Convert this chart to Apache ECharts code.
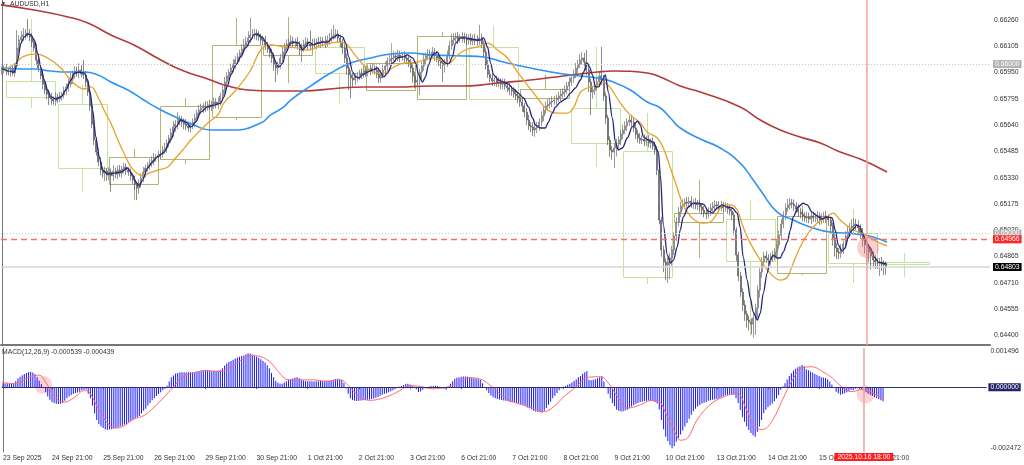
<!DOCTYPE html>
<html><head><meta charset="utf-8">
<script src="https://cdn.jsdelivr.net/npm/echarts@6/dist/echarts.min.js"></script>
<style>html,body{margin:0;padding:0;background:#fff}#c{width:1024px;height:465px}</style>
</head><body><div id="c"></div>
<script>
// ---------- categories ----------
const tradingDays = ['23 Sep','24 Sep','25 Sep','26 Sep','29 Sep','30 Sep','1 Oct','2 Oct','3 Oct','6 Oct','7 Oct','8 Oct','9 Oct','10 Oct','13 Oct','14 Oct','15 Oct','16 Oct','17 Oct','20 Oct','21 Oct'];
const firstHour = 22;
const slotCount = 462;
const firstLabel = '23 Sep 2025';
const firstDayStart = 2;
// ---------- tick labels ----------
const priceTicks = [0.64400,0.64555,0.64710,0.64865,0.65020,0.65175,0.65330,0.65485,0.65640,0.65795,0.65950,0.66105,0.66260];
const macdTicks = [-0.002472, 0.001496];
// ---------- price levels ----------
const roundLevels = [0.66000, 0.65000];
const alertLevel = 0.64966;
const bidLevel = 0.64803;
const crossBar = 404;
const crossLabel = '2025.10.16 18:00';
// ---------- H1 bars (points, 1e-5) ----------
const firstOpen = 65960;
const closes = [
65965,65977,65959,65953,65965,65947,65989,66095,66142,66160,
66172,66183,66177,66160,66130,66095,66024,65977,65930,65882,
65847,65823,65800,65794,65782,65806,65794,65812,65818,65841,
65865,65882,65912,65941,65959,65947,65965,65941,65936,65894,
65835,65753,65646,65552,65481,65422,65375,65357,65369,65346,
65363,65340,65369,65351,65375,65357,65381,65393,65375,65363,
65340,65316,65292,65269,65298,65328,65363,65387,65405,65416,
65434,65446,65452,65464,65469,65493,65505,65534,65564,65593,
65629,65646,65676,65664,65658,65646,65635,65623,65641,65658,
65682,65711,65729,65741,65753,65747,65759,65753,65764,65776,
65764,65776,65812,65847,65894,65930,65953,65977,66000,66024,
66042,66065,66089,66113,66130,66154,66172,66177,66183,66166,
66160,66142,66136,66113,66089,66065,66036,65995,65977,66000,
66036,66071,66101,66118,66130,66136,66124,66130,66107,66083,
66101,66118,66130,66118,66107,66124,66118,66130,66124,66136,
66130,66124,66142,66154,66166,66172,66177,66154,66130,66095,
66036,65977,65936,65918,65906,65924,65930,65947,65941,65959,
65953,65971,65965,65977,65965,65941,65918,65936,65965,65989,
66018,66030,66036,66048,66042,66054,66042,66048,66036,66024,
66012,65977,65930,65894,65906,65953,65989,66024,66048,66059,
66054,66071,66048,66036,66018,66006,65995,66012,66054,66107,
66142,66154,66160,66148,66154,66160,66148,66142,66154,66136,
66148,66142,66136,66154,66118,66071,65995,65941,65918,65900,
65906,65888,65894,65882,65888,65871,65859,65847,65841,65823,
65812,65800,65776,65753,65717,65670,65635,65629,65611,65623,
65635,65658,65694,65729,65753,65764,65776,65782,65788,65800,
65812,65823,65835,65847,65871,65894,65918,65941,65977,66000,
66024,66036,66012,65965,65894,65835,65847,65871,65894,65930,
65906,65812,65682,65552,65493,65481,65505,65528,65552,65587,
65611,65635,65658,65670,65658,65623,65587,65564,65552,65558,
65546,65552,65534,65540,65517,65493,65375,65080,64903,64832,
64815,64832,64856,64903,64986,65068,65127,65163,65174,65186,
65180,65192,65174,65180,65169,65174,65157,65139,65121,65115,
65133,65151,65163,65169,65163,65157,65163,65151,65157,65145,
65133,65110,65021,64874,64750,64655,64579,64525,64490,64478,
64466,64502,64561,64667,64773,64832,64868,64856,64844,64862,
64868,64891,64933,64992,65056,65110,65151,65169,65180,65174,
65163,65145,65127,65115,65104,65092,65098,65086,65104,65092,
65092,65104,65080,65092,65104,65092,65080,65045,64974,64915,
64891,64885,64909,64938,64986,65009,65033,65045,65056,65050,
65033,65003,64962,64933,64915,64891,64868,64844,64832,64826,
64832,64820,64815,64803];
const upWick = [
20,15,25,18,22,30,14,106,28,35,40,25,83,30,22,18,25,15,20,28,
18,22,25,30,15,28,20,24,18,26,22,30,35,20,28,25,40,30,83,22,
18,15,20,25,18,22,30,20,25,18,28,22,35,20,26,30,18,25,22,15,
20,18,25,15,22,28,30,20,18,25,22,30,18,26,20,25,30,22,18,28,
35,25,40,20,28,22,30,25,18,22,26,20,30,25,18,28,22,30,20,25,
22,28,20,25,30,22,18,26,30,22,25,20,28,35,30,40,100,30,25,22,
28,20,25,30,18,22,25,20,28,15,22,30,25,28,20,35,25,22,30,28,
20,25,30,22,80,25,28,20,30,25,22,35,28,30,40,59,30,25,20,18,
22,25,20,28,30,22,25,20,28,30,25,22,30,28,20,25,22,30,28,25,
22,30,25,28,20,30,25,22,28,20,25,18,22,25,28,20,25,30,22,28,
25,30,22,28,20,25,22,18,25,30,35,28,25,30,22,28,25,30,22,28,
25,30,28,77,25,20,22,30,25,28,20,25,30,22,28,25,20,30,25,22,
28,25,20,22,18,25,30,22,28,35,25,22,28,20,25,30,22,28,25,20,
25,30,22,28,25,30,22,28,30,25,35,35,30,71,25,20,22,25,30,28,
171,30,20,18,22,25,28,30,22,25,30,28,22,25,30,28,22,25,30,22,
28,25,30,22,28,25,22,18,20,25,22,28,30,25,22,28,30,25,28,22,
30,25,28,22,30,25,28,22,25,30,22,28,25,30,22,28,30,25,28,22,
25,20,18,15,20,25,22,28,20,25,22,30,25,28,22,30,25,28,22,25,
30,22,28,25,30,22,28,35,30,25,28,22,30,25,28,22,30,25,28,22,
25,30,22,28,25,30,22,20,18,22,28,25,30,22,28,35,30,40,35,30,
28,22,30,25,28,22,30,25,28,22,25,30,22,20];
const downWick = [
22,18,25,20,28,15,22,18,25,20,22,28,18,25,30,22,28,25,20,30,
25,30,41,35,22,28,25,20,30,22,25,28,20,30,25,22,28,20,25,30,
22,28,25,30,22,25,30,28,47,35,30,94,28,25,30,22,28,25,30,22,
28,25,30,71,35,28,25,30,22,28,25,30,22,28,25,20,22,28,25,30,
22,28,30,25,28,30,25,22,28,25,30,22,28,25,30,28,22,25,30,28,
25,30,22,28,25,20,22,28,25,30,22,28,25,20,22,25,28,22,30,25,
22,28,25,30,22,28,30,35,83,40,28,25,30,22,28,25,30,28,22,30,
71,28,25,30,22,28,25,30,22,28,25,30,22,28,25,20,22,28,30,35,
30,40,90,120,45,30,28,25,30,22,28,25,30,22,28,25,30,28,22,25,
28,25,30,22,28,25,30,22,28,25,30,28,40,35,30,89,40,30,28,25,
30,22,28,25,30,35,100,45,30,25,22,28,25,30,22,28,25,30,28,22,
25,30,28,22,25,30,28,22,25,30,28,22,25,30,28,22,25,30,28,22,
25,30,28,35,30,28,25,30,35,40,30,28,25,30,22,28,25,30,22,28,
25,30,22,28,25,30,22,28,25,30,22,28,25,30,60,136,40,30,28,25,
30,28,35,30,40,45,94,50,35,30,28,25,30,22,28,25,30,28,22,25,
30,28,25,30,22,28,30,25,40,60,90,106,100,45,30,28,25,30,22,28,
25,30,22,28,25,30,22,28,25,30,22,28,25,30,22,28,25,30,22,28,
25,30,28,35,30,28,35,40,45,50,60,80,100,60,45,35,30,28,25,30,
28,25,30,22,28,25,30,22,28,25,30,22,28,25,30,22,28,25,30,22,
25,30,28,25,30,28,35,40,45,50,40,35,30,28,25,30,28,25,30,28,
30,35,40,50,100,60,80,45,40,35,77,40,60,45];
// ---------- daily candle overlay (points) ----------
const dayOpen  = [65900,65767,65292,65440,65688,66054,66101,65847,65794,66101,65800,65741,65487,65068,65086,64767,65003,64832];
const dayClose = [65806,65390,65452,65753,66113,66113,65947,66006,66166,65794,65853,65534,64744,65121,64838,65104,64826,64820];
const dayHigh  = [66266,65877,65499,65800,66272,66278,66113,66124,66189,66225,65936,66101,65711,65316,65198,65168,65145,64885];
const dayLow   = [65741,65245,65198,65410,65670,65888,65764,65847,65794,65788,65794,65393,64702,64856,64396,64755,64708,64744];
// ---------- moving averages [bar, points] ----------
const maNavy = [[0,65971],[5.7,65953],[7.3,66024],[8.8,66124],[10.4,66160],[11.9,66177],[13.5,66172],[15.1,66142],[16.6,66065],[18.2,65977],[19.7,65906],[21.3,65847],[22.8,65806],[25.2,65794],[27.5,65806],[29.8,65847],[32.2,65906],[33.7,65947],[36.1,65953],[38.4,65947],[40,65906],[41.2,65829],[42.3,65729],[43.8,65570],[45.4,65452],[47,65375],[49.3,65351],[52.4,65357],[55.5,65363],[58.6,65387],[61,65346],[62.5,65304],[64.1,65281],[65.6,65316],[68,65387],[70.3,65422],[72.6,65452],[75.7,65481],[78.8,65552],[81.2,65629],[83.5,65670],[85.8,65658],[88.2,65629],[90.5,65658],[92.8,65717],[96,65747],[99.1,65758],[102.2,65770],[103.6,65806],[105.4,65876],[106.8,65936],[109.2,65995],[111.5,66042],[113.8,66095],[116.2,66142],[117.6,66172],[119.4,66177],[121.8,66154],[123.2,66130],[124.6,66101],[126.4,66065],[127.8,66012],[129.2,65983],[131.1,66006],[132.5,66065],[134.8,66124],[137.2,66130],[138.6,66124],[140.4,66083],[141.8,66101],[143.2,66130],[145.6,66113],[147.4,66124],[149.8,66130],[152.1,66130],[154.4,66154],[156.8,66172],[159.1,66160],[160.5,66124],[161.9,66042],[163.8,65953],[165.2,65924],[166.6,65918],[168.4,65936],[170.8,65953],[173.1,65965],[175.4,65977],[176.8,65953],[178.2,65924],[180.1,65947],[182.4,66006],[184.8,66036],[187.1,66042],[189.4,66054],[191.8,66036],[193.2,66006],[194.6,65936],[196.4,65894],[197.8,65924],[199.2,65995],[201.1,66054],[203.4,66071],[204.8,66036],[207.2,66006],[208.6,66000],[210.4,66042],[211.8,66124],[214.2,66154],[216.5,66154],[218.8,66148],[221.2,66142],[223.5,66142],[224.9,66154],[226.8,66101],[228.2,66006],[229.6,65936],[231.9,65906],[234.2,65894],[236.6,65882],[238.9,65853],[241.2,65829],[243.6,65800],[245.9,65747],[247.8,65682],[249.2,65640],[251.5,65623],[253.8,65623],[255.2,65658],[257.1,65711],[258.5,65747],[260.8,65776],[263.2,65794],[265.5,65829],[267.8,65859],[270.2,65906],[271.6,65953],[273.4,66006],[274.4,65983],[275.8,65936],[277.2,65865],[278.6,65865],[280.4,65906],[281.8,65936],[283.2,65835],[285.1,65682],[286.5,65540],[287.9,65493],[289.8,65505],[292.1,65564],[294.4,65629],[296.8,65664],[298.2,65640],[299.6,65570],[301.9,65552],[304.2,65540],[306.6,65481],[307.5,65346],[308.9,65050],[310.8,64873],[312.2,64826],[313.6,64844],[315.4,64921],[316.8,65021],[318.2,65098],[320.6,65157],[322.9,65180],[325.2,65180],[327.6,65174],[329.9,65133],[331.8,65121],[334.1,65151],[336.4,65169],[338.8,65157],[341.1,65151],[343.4,65121],[344.8,65039],[346.2,64862],[348.1,64726],[349.5,64620],[350.9,64537],[352.8,64490],[354.2,64531],[355.6,64649],[357.4,64767],[358.8,64844],[360.2,64873],[362.1,64856],[363.5,64856],[364.9,64891],[366.8,64950],[368.2,65021],[369.6,65098],[371.9,65157],[374.2,65180],[376.1,65169],[378.4,65127],[380.8,65104],[383.1,65086],[385.4,65098],[387.8,65092],[389.2,65021],[390.6,64933],[392.4,64897],[393.8,64915],[395.2,64974],[397.1,65021],[399.4,65050],[400.8,65039],[402.2,64991],[404.1,64944],[405.5,64915],[407.8,64856],[409.2,64832],[411.6,64826],[413.4,64820]];
const maOrange = [[0,65959],[6.5,66006],[8.8,66036],[12.1,66054],[14.9,66059],[18.2,66054],[22.8,66024],[27.5,65977],[30.8,65924],[34.5,65876],[38.2,65853],[41.5,65865],[44.8,65806],[47.6,65729],[50.8,65652],[54.1,65552],[56.9,65475],[60.2,65393],[63.4,65351],[65.8,65340],[68.6,65357],[72.8,65375],[77.4,65393],[80.2,65434],[84.4,65493],[88.2,65552],[92.8,65611],[96.6,65658],[100.8,65700],[103.6,65770],[110.1,65859],[116.2,65965],[120.8,66083],[125.5,66113],[131.6,66101],[138.1,66095],[142.8,66083],[147.4,66101],[153.5,66124],[158.2,66130],[161.4,66113],[164.2,66065],[168.9,65995],[173.6,65953],[178.2,65947],[182.9,65983],[187.6,66006],[194.1,66012],[200.2,66036],[204.8,66024],[208.6,66006],[212.8,66054],[217.4,66089],[222.1,66101],[226.8,66124],[231.4,66083],[236.1,66036],[240.8,65953],[245.4,65876],[250.1,65800],[254.8,65729],[259.4,65711],[264.1,65711],[266.9,65741],[270.2,65835],[273.4,65859],[278.1,65876],[280.9,65894],[284.2,65859],[288.8,65770],[293.5,65699],[298.2,65652],[301.4,65599],[306.1,65564],[308.9,65505],[312.2,65387],[315.4,65269],[318.2,65169],[322.9,65086],[327.6,65062],[330.8,65068],[334.1,65121],[336.9,65169],[340.2,65169],[343.4,65139],[346.2,65039],[349.5,64944],[354.2,64844],[358.8,64767],[363.5,64726],[366.8,64744],[369.6,64826],[372.8,64921],[376.6,65003],[380.8,65062],[385.4,65098],[388.2,65121],[391.5,65080],[396.2,65033],[400.8,65003],[405.5,64974],[410.2,64944],[413.4,64927]];
const maBlue = [[-0.5,65977],[8.8,65971],[14.9,65971],[22.8,65959],[30.8,65953],[38.2,65953],[44.8,65936],[50.8,65894],[58.8,65847],[66.2,65788],[74.2,65729],[82.1,65682],[89.6,65640],[97.5,65611],[108.2,65611],[120.8,65652],[125.5,65700],[131.6,65747],[134.8,65788],[144.2,65871],[153.5,65947],[162.8,66006],[172.2,66036],[181.5,66059],[190.8,66065],[200.2,66054],[215.6,66048],[224.9,66042],[234.2,66012],[246.8,65977],[262.2,65941],[278.1,65918],[285.6,65894],[293.5,65847],[301.4,65776],[307.5,65741],[312.2,65682],[316.8,65623],[326.2,65558],[335.5,65505],[344.8,65416],[350.9,65316],[354.2,65257],[362.1,65127],[369.6,65080],[377.5,65039],[386.8,65009],[394.8,65003],[402.2,64992],[406.9,64980],[413.4,64950]];
const maRed = [[-0.5,66349],[14.9,66319],[30.8,66278],[40.1,66242],[50.8,66172],[61.6,66113],[74.2,66024],[84.9,65959],[96.1,65912],[105.4,65871],[114.8,65847],[126.9,65841],[139.5,65841],[158.2,65859],[168.9,65865],[184.8,65865],[200.2,65871],[215.6,65871],[223.5,65876],[231.4,65888],[246.8,65906],[262.2,65930],[278.1,65953],[285.6,65959],[301.4,65947],[307.5,65924],[316.8,65871],[326.2,65835],[344.8,65747],[354.2,65670],[363.5,65611],[372.8,65570],[382.2,65534],[391.5,65481],[400.8,65440],[408.8,65393],[413.4,65363]];
// ---------- MACD (1e-6) ----------
const macdHist = [
150,140,150,130,140,160,230,330,400,460,
500,540,570,580,560,500,400,250,120,0,
-180,-350,-480,-560,-600,-630,-640,-630,-590,-520,
-420,-350,-300,-260,-220,-200,-170,-120,-100,-90,
-250,-420,-700,-1000,-1250,-1400,-1500,-1560,-1610,-1620,
-1610,-1600,-1580,-1560,-1530,-1500,-1470,-1420,-1390,-1330,
-1280,-1230,-1180,-1140,-1100,-1000,-900,-820,-700,-600,
-500,-420,-340,-260,-190,-120,-60,60,220,380,
450,520,540,560,570,570,560,570,575,570,
580,600,620,640,650,660,650,630,610,620,
630,640,650,720,830,900,960,1000,1050,1100,
1130,1160,1190,1210,1260,1300,1280,1250,1210,1170,
1120,1070,1000,940,840,720,540,380,240,170,
140,130,180,230,280,310,330,360,380,340,
290,260,240,230,230,230,220,230,230,240,
230,240,250,250,260,280,310,320,300,270,
160,-50,-250,-420,-490,-520,-530,-520,-510,-500,
-490,-480,-470,-450,-430,-400,-370,-330,-290,-250,
-230,-190,-150,-120,-80,-20,20,50,80,120,
130,100,60,20,-80,-180,-160,-100,-40,10,
30,40,50,60,50,20,0,-60,-100,20,
130,230,320,360,380,400,410,410,400,380,
360,340,320,300,280,150,0,-120,-220,-320,
-380,-420,-450,-470,-490,-510,-520,-540,-560,-570,
-580,-590,-610,-640,-670,-720,-770,-800,-850,-900,
-930,-950,-960,-970,-900,-790,-670,-550,-420,-330,
-220,-120,-40,20,50,90,130,180,240,290,
380,430,500,570,620,280,270,280,300,340,
380,420,220,-40,-250,-420,-600,-720,-860,-900,
-930,-920,-890,-860,-800,-740,-690,-640,-600,-560,
-550,-530,-520,-510,-510,-520,-560,-620,-850,-1250,
-1600,-1890,-2050,-2210,-2330,-2240,-2070,-1930,-1800,-1650,
-1500,-1370,-1200,-1050,-920,-820,-740,-680,-620,-590,
-560,-520,-500,-480,-470,-450,-420,-390,-350,-310,
-290,-280,-300,-290,-420,-600,-870,-1150,-1320,-1500,
-1630,-1750,-1830,-1890,-1700,-1500,-1250,-990,-860,-760,
-700,-620,-540,-430,-300,-100,30,150,290,430,
530,640,700,760,800,850,800,690,650,600,
560,500,470,430,380,370,350,300,220,100,
0,-170,-230,-290,-260,-230,-190,-150,-100,-120,
-60,-40,-60,-80,-130,-190,-250,-290,-340,-380,
-420,-460,-500,-539];
const macdSignal = [[-0.5,200],[5.6,130],[12.1,380],[16.8,460],[20.5,130],[24.2,-380],[28.9,-570],[33.6,-380],[38.2,-130],[40.6,-200],[44.8,-830],[49.4,-1400],[53.2,-1560],[56.9,-1470],[61.6,-1210],[66.2,-1080],[70.9,-760],[75.6,-380],[79.8,0],[84.4,400],[89.6,550],[96.1,630],[102.2,600],[106.8,760],[111.5,1020],[116.2,1210],[120.8,1170],[125.5,950],[130.2,500],[133.9,280],[139.5,280],[145.6,280],[152.1,230],[158.2,280],[162.8,0],[167.5,-380],[172.2,-500],[176.8,-450],[181.5,-320],[186.2,-130],[190.8,60],[195.5,30],[201.6,-60],[208.1,0],[212.8,130],[218.8,360],[224.9,280],[229.6,0],[234.2,-320],[238.4,-530],[246.4,-740],[253.8,-930],[258.5,-740],[263.2,-360],[268.8,0],[274.4,380],[280.4,400],[284.2,150],[288.4,-360],[293,-800],[299.1,-670],[303.8,-510],[307,-510],[311.7,-1120],[316.4,-1890],[317.8,-2020],[321,-1960],[325.7,-1250],[331.8,-670],[337.8,-380],[344.4,-230],[349,-870],[353.7,-1570],[356.5,-1610],[361.2,-1250],[365.8,-480],[370.5,280],[375.2,740],[379.8,780],[384.5,600],[389.2,350],[393.8,0],[398.5,-170],[403.2,-80],[406.4,-150],[409.7,-290],[413.4,-439]];
const macdLegend = 'MACD(12,26,9) -0.000539 -0.000439';
const symbolTitle = 'AUDUSD,H1';
// highlight marks [bar, value]
const mainHighlight = [[404.6, 0.64918]];
const macdHighlights = [[18.9, 0.00009], [404.8, -0.000275]];

// ---------- build ----------
const FONT = 'Liberation Sans, Arial, sans-serif';
const FS = 6.8;
const categories = [];
tradingDays.forEach((d, k) => {
  for (let h = (k === 0 ? firstHour : 0); h < 24; h++) {
    if (categories.length < slotCount) categories.push(d + ' ' + String(h).padStart(2, '0') + ':00');
  }
});
const toP = v => v / 1e5;
const candleData = closes.map((c, i) => {
  const o = i === 0 ? firstOpen : closes[i - 1];
  const hi = Math.max(o, c) + upWick[i];
  const lo = Math.min(o, c) - downWick[i];
  return [toP(o), toP(c), toP(lo), toP(hi)];
});
const boxData = dayOpen.map((o, d) => [firstDayStart + 24 * d, firstDayStart + 24 * d + 23, toP(o), toP(dayClose[d]), toP(dayHigh[d]), toP(dayLow[d])]);
const conv = arr => arr.map(p => [p[0], toP(p[1])]);
const labelShow = (idx, val) => idx === 0 || (idx < closes.length && /21:00$/.test(val));

const BULL_BOX = '#b4b274', BEAR_BOX = '#c6e29c';
const lvlLabel = (text, bg) => ({show: true, position: 'end', distance: 3, formatter: text, backgroundColor: bg, color: '#fff', padding: [1, 2, 0, 2], fontSize: FS, fontFamily: FONT});

const option = {
  animation: false,
  backgroundColor: '#ffffff',
  title: [
    {text: '▼', left: 1, top: 1, padding: 0, textStyle: {fontSize: 5, color: '#222', fontWeight: 'normal'}},
    {text: symbolTitle, left: 10, top: 1, padding: 0, textStyle: {fontSize: FS, color: '#333', fontWeight: 'normal', fontFamily: FONT}},
    {text: macdLegend, left: 2, top: 349, padding: 0, textStyle: {fontSize: FS, color: '#333', fontWeight: 'normal', fontFamily: FONT}}
  ],
  grid: [
    {left: 1, right: 34, top: 0, height: 345},
    {left: 1, right: 34, top: 348, height: 104}
  ],
  xAxis: [
    {type: 'category', gridIndex: 0, data: categories, boundaryGap: true,
     axisLine: {show: true, lineStyle: {color: '#777', width: 2}}, axisTick: {show: false}, axisLabel: {show: false}, splitLine: {show: false}},
    {type: 'category', gridIndex: 1, data: categories, boundaryGap: true,
     axisLine: {show: true, lineStyle: {color: '#8a8a8a', width: 1}},
     axisTick: {show: true, interval: labelShow, length: 2, alignWithLabel: true, lineStyle: {color: '#666'}},
     axisLabel: {interval: labelShow, formatter: (v, i) => i === 0 ? firstLabel : v, align: 'left', margin: 3, fontSize: FS, color: '#333', fontFamily: FONT},
     splitLine: {show: false}},
    {type: 'value', gridIndex: 0, min: -0.5, max: slotCount - 0.5, show: false},
    {type: 'value', gridIndex: 1, min: -0.5, max: slotCount - 0.5, show: false}
  ],
  yAxis: [
    {type: 'value', gridIndex: 0, position: 'right', min: 0.643428, max: 0.66378, scale: true,
     axisLine: {show: true, lineStyle: {color: '#777', width: 1}}, axisTick: {show: false}, splitLine: {show: false},
     axisLabel: {customValues: priceTicks, formatter: v => v.toFixed(5), margin: 4, fontSize: FS, color: '#333', fontFamily: FONT}},
    {type: 'value', gridIndex: 1, position: 'right', min: macdTicks[0], max: macdTicks[1],
     axisLine: {show: true, lineStyle: {color: '#777', width: 1}}, axisTick: {show: false}, splitLine: {show: false},
     axisLabel: {customValues: macdTicks, formatter: v => v.toFixed(6), margin: 4, fontSize: FS, color: '#333', fontFamily: FONT,
       verticalAlignMinLabel: 'bottom', verticalAlignMaxLabel: 'top'}}
  ],
  series: [
    {type: 'custom', name: 'D1', xAxisIndex: 2, yAxisIndex: 0, z: 1, clip: true, data: boxData,
     encode: {x: [0, 1], y: [2, 3, 4, 5]},
     renderItem: (params, api) => {
       const s = api.value(0), e = api.value(1), o = api.value(2), c = api.value(3), h = api.value(4), l = api.value(5);
       const tl = api.coord([s, Math.max(o, c)]);
       const br = api.coord([e, Math.min(o, c)]);
       const mid = (s + e) / 2;
       const ph = api.coord([mid, h]), pl = api.coord([mid, l]);
       const col = c >= o ? BULL_BOX : BEAR_BOX;
       const st = {stroke: col, fill: null, lineWidth: 1};
       return {type: 'group', children: [
         {type: 'rect', shape: {x: Math.round(tl[0]) + 0.5, y: Math.round(tl[1]) + 0.5, width: Math.round(br[0] - tl[0]), height: Math.max(1, Math.round(br[1] - tl[1]))}, style: st},
         {type: 'line', shape: {x1: Math.round(ph[0]) + 0.5, y1: ph[1], x2: Math.round(ph[0]) + 0.5, y2: tl[1]}, style: st},
         {type: 'line', shape: {x1: Math.round(pl[0]) + 0.5, y1: br[1], x2: Math.round(pl[0]) + 0.5, y2: pl[1]}, style: st}
       ]};
     }},
    {type: 'candlestick', name: 'AUDUSD', xAxisIndex: 0, yAxisIndex: 0, z: 2, data: candleData, barWidth: 1.5,
     itemStyle: {color: '#c8c8c8', color0: '#8e8e8e', borderColor: '#6e6e6e', borderColor0: '#565656', borderWidth: 0.7}},
    {type: 'line', name: 'MA red', xAxisIndex: 2, yAxisIndex: 0, z: 3, data: conv(maRed), smooth: 0.5, showSymbol: false, lineStyle: {color: '#b33a3a', width: 1.6},
     markLine: {symbol: 'none', silent: true, animation: false, precision: 6, data: [
       {yAxis: roundLevels[0], lineStyle: {color: '#c4c4c4', type: [1, 2], width: 1}, label: lvlLabel(roundLevels[0].toFixed(5), '#b3b3b3')},
       {yAxis: roundLevels[1], lineStyle: {color: '#c4c4c4', type: [1, 2], width: 1}, label: lvlLabel(roundLevels[1].toFixed(5), '#b3b3b3')},
       {yAxis: alertLevel, lineStyle: {color: '#ff6b6b', type: [6, 4], width: 1.3}, label: lvlLabel(alertLevel.toFixed(5), '#ff2626')},
       {yAxis: bidLevel, lineStyle: {color: '#d6d6d6', type: 'solid', width: 1.5}, label: lvlLabel(bidLevel.toFixed(5), '#000000')}
     ]}},
    {type: 'line', name: 'MA blue', xAxisIndex: 2, yAxisIndex: 0, z: 3, data: conv(maBlue), smooth: 0.5, showSymbol: false, lineStyle: {color: '#2f93f5', width: 1.6}},
    {type: 'line', name: 'MA orange', xAxisIndex: 2, yAxisIndex: 0, z: 3, data: conv(maOrange), smooth: 0.4, showSymbol: false, lineStyle: {color: '#e5a22a', width: 1.3}},
    {type: 'line', name: 'MA navy', xAxisIndex: 2, yAxisIndex: 0, z: 4, data: conv(maNavy), smooth: 0.3, smoothMonotone: 'x', showSymbol: false, lineStyle: {color: '#23237e', width: 1.3},
     markLine: {symbol: 'none', silent: true, animation: false, precision: 2, label: {show: false},
       data: [{xAxis: crossBar, lineStyle: {color: '#f5a0a0', width: 1.5, type: 'solid'}}]}},
    {type: 'scatter', name: 'hl', xAxisIndex: 2, yAxisIndex: 0, z: 5, data: mainHighlight, symbolSize: 22, itemStyle: {color: 'rgba(240,120,120,0.45)'}},
    {type: 'scatter', name: 'hl2', xAxisIndex: 3, yAxisIndex: 1, z: 1, data: macdHighlights, symbolSize: 18, itemStyle: {color: 'rgba(240,120,120,0.4)'}},
    {type: 'bar', name: 'MACD', xAxisIndex: 1, yAxisIndex: 1, z: 2, data: macdHist.map(v => v / 1e6), barWidth: 1, itemStyle: {color: '#1717ff'}},
    {type: 'line', name: 'Signal', xAxisIndex: 3, yAxisIndex: 1, z: 3, data: macdSignal.map(p => [p[0], p[1] / 1e6]), smooth: 0.4, showSymbol: false, lineStyle: {color: '#ff6a6a', width: 1},
     markLine: {symbol: 'none', silent: true, animation: false, precision: 6, data: [
       {yAxis: 0, lineStyle: {color: '#30306e', width: 1.2, type: 'solid'}, label: {show: true, position: 'end', distance: 2, formatter: (0).toFixed(6), backgroundColor: '#24246a', color: '#fff', padding: [1, 2, 0, 2], fontSize: FS, fontFamily: FONT}},
       {xAxis: crossBar, lineStyle: {color: '#f5a0a0', width: 1.5, type: 'solid'}, label: {show: true, position: 'start', distance: 1, formatter: crossLabel, backgroundColor: '#ff1f1f', color: '#fff', padding: [1, 3, 0, 3], fontSize: FS, fontFamily: FONT}}
     ]}}
  ]
};
const chart = echarts.init(document.getElementById('c'), null, {renderer: 'canvas'});
chart.setOption(option);
</script>
</body></html>
